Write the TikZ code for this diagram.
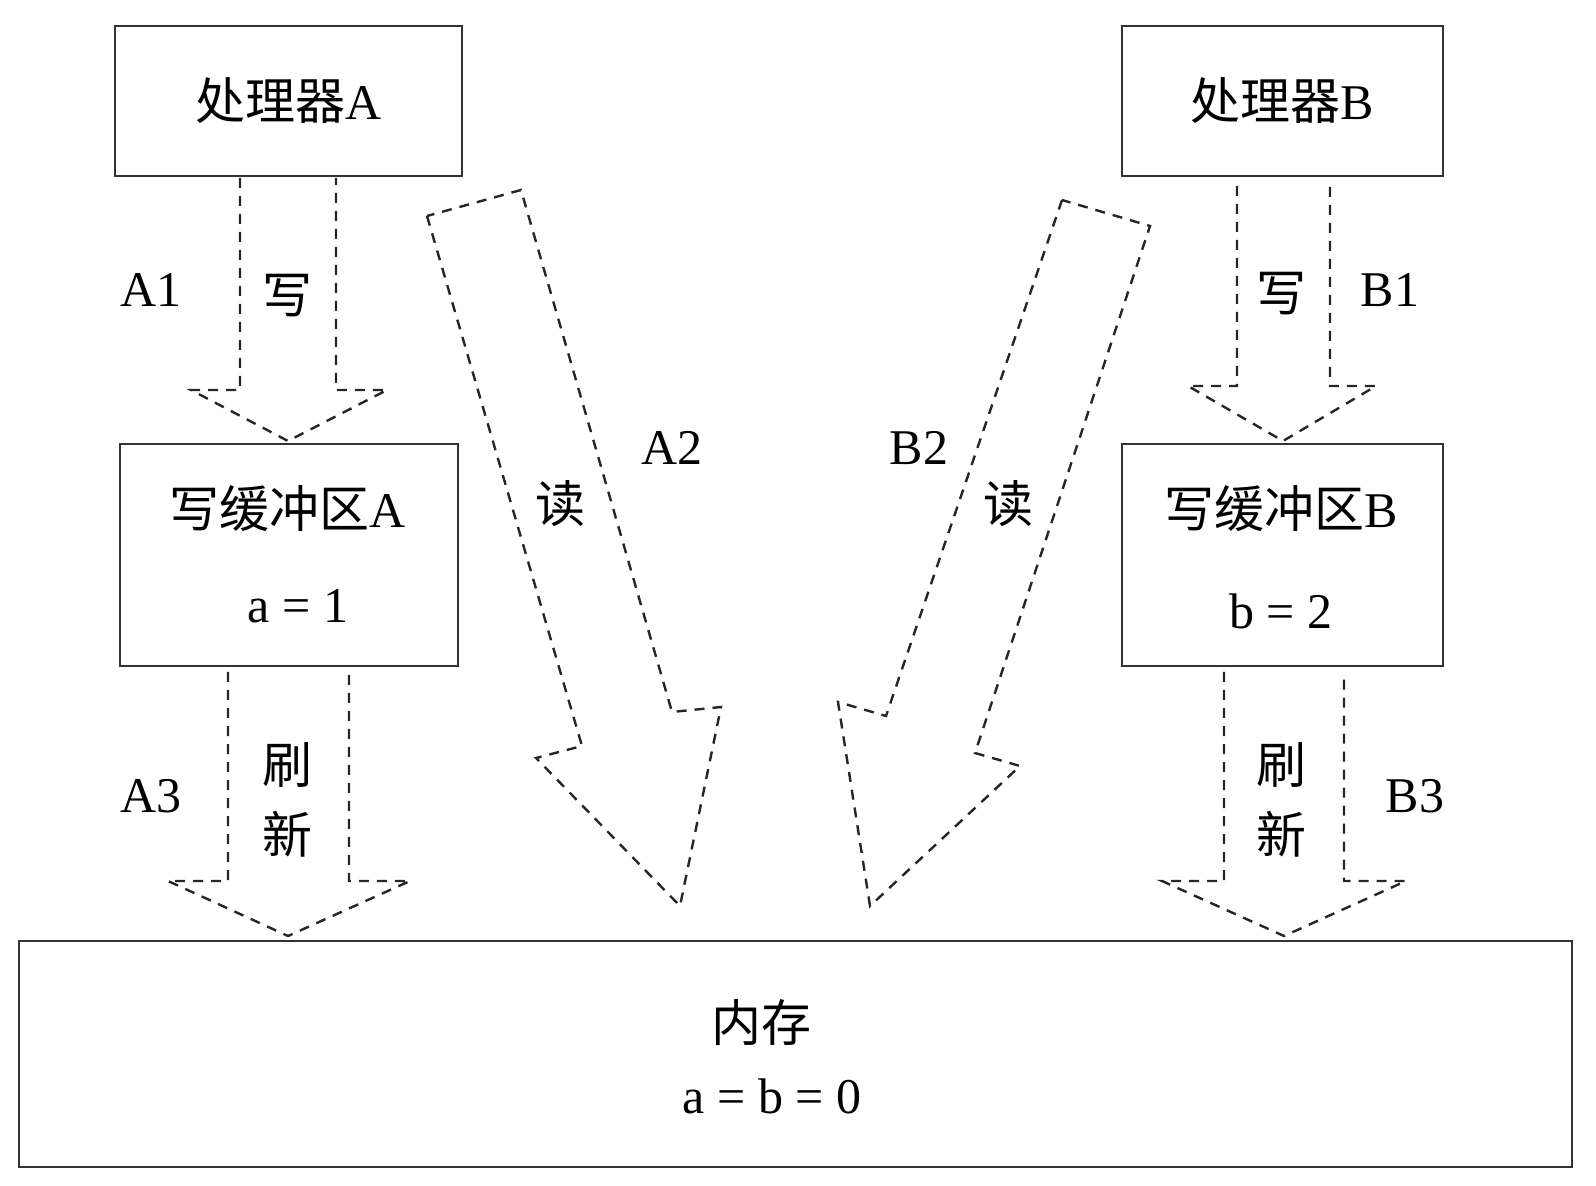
\documentclass[tikz,border=0pt]{standalone}
\usepackage{fontspec}
\setmainfont{Liberation Serif}
\newfontfamily\cjk{Noto Sans CJK SC}
\tikzset{
    box/.style={draw=black!80, line width=0.5pt, inner sep=0pt},
    hollow/.style={draw=black!85, line width=0.6pt, dash pattern=on 2.5pt off 2pt, line join=miter},
    lbl/.style={font=\fontsize{12.5}{15}\selectfont, inner sep=0pt}
}
\begin{document}
\begin{tikzpicture}[x=0.25pt, y=-0.25pt]
        \useasboundingbox (0,0) rectangle (1596,1186);

        % boxes
        \node[box, minimum width=86.75pt, minimum height=37.5pt] (procA) at (288.5,101) {};
        \node[box, minimum width=80.25pt, minimum height=37.5pt] (procB) at (1282.5,101) {};
        \node[box, minimum width=84.5pt, minimum height=55.5pt] (bufA) at (289,555) {};
        \node[box, minimum width=80.25pt, minimum height=55.5pt] (bufB) at (1282.5,555) {};
        \node[box, minimum width=388.25pt, minimum height=56.5pt] (mem) at (795.5,1054) {};

        % write arrows
        \draw[hollow] (240,178) -- (240,390) -- (191,390) -- (288,441) -- (387,390) -- (336,390) -- (336,178);
        \draw[hollow] (1237,186) -- (1237,386) -- (1188,386) -- (1283,441) -- (1376,386) -- (1330,386) -- (1330,186);

        % read arrows
        \draw[hollow] (427,216) -- (582,746) -- (536,758) -- (680,906) -- (721,707) -- (672,712) -- (521,190) -- cycle;
        \draw[hollow] (1062,200) -- (886,716) -- (838,702) -- (870,906) -- (1020,766) -- (975,753) -- (1150,226) -- cycle;

        % flush arrows
        \draw[hollow] (228,672) -- (228,881) -- (168,881) -- (288,936) -- (410,881) -- (349,881) -- (349,672);
        \draw[hollow] (1224,672) -- (1224,881) -- (1162,881) -- (1284,936) -- (1406,881) -- (1344,881) -- (1344,672);

        % texts
        \node[lbl] (tA) at (procA) {{\cjk 处理器}A};
        \node[lbl] (tB) at (procB) {{\cjk 处理器}B};
        \node[lbl] (a1) at (151,290) {A1};
        \node[lbl] (wA) at (287,296) {\cjk 写};
        \node[lbl] (wB) at (1281,294) {\cjk 写};
        \node[lbl] (b1) at (1390,290) {B1};
        \node[lbl] (a2) at (672,448) {A2};
        \node[lbl] (rA) at (560,504) {\cjk 读};
        \node[lbl] (b2) at (919,448) {B2};
        \node[lbl] (rB) at (1008,504) {\cjk 读};
        \node[lbl] (tbA) at (288,509) {{\cjk 写缓冲区}A};
        \node[lbl] (vA) at (298,606) {a = 1};
        \node[lbl] (tbB) at (1281,509) {{\cjk 写缓冲区}B};
        \node[lbl] (vB) at (1281,611) {b = 2};
        \node[lbl, align=center, font=\fontsize{12.5}{17.5}\selectfont\cjk] (fA) at (287,800) {刷\\新};
        \node[lbl, align=center, font=\fontsize{12.5}{17.5}\selectfont\cjk] (fB) at (1281,800) {刷\\新};
        \node[lbl] (a3) at (151,796) {A3};
        \node[lbl] (b3) at (1415,796) {B3};
        \node[lbl] (tm) at (761,1023) {\cjk 内存};
        \node[lbl] (vm) at (772,1096) {a = b = 0};
\end{tikzpicture}
\end{document}
